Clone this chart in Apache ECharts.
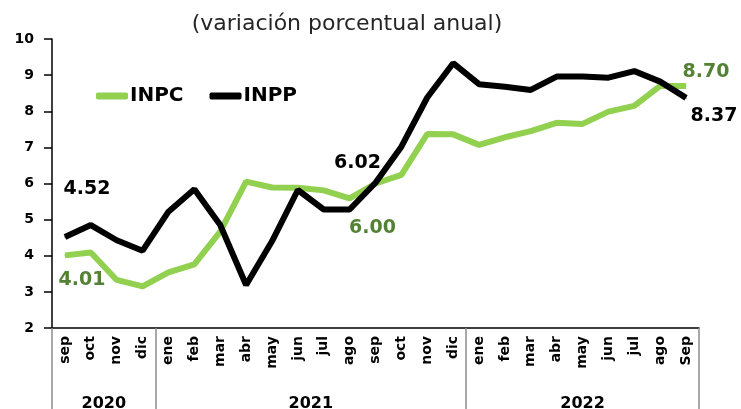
<!DOCTYPE html>
<html>
<head>
<meta charset="utf-8">
<script src="https://cdn.jsdelivr.net/npm/echarts@6/dist/echarts.min.js"></script>
<style>
  html, body { margin: 0; padding: 0; background: #fff; }
  #chart { width: 741px; height: 409px; }
</style>
</head>
<body>
<div id="chart"></div>
<script>
// datos
var months = ['sep', 'oct', 'nov', 'dic', 'ene', 'feb', 'mar', 'abr', 'may', 'jun', 'jul', 'ago',
              'sep', 'oct', 'nov', 'dic', 'ene', 'feb', 'mar', 'abr', 'may', 'jun', 'jul', 'ago', 'Sep'];
var years = ['2020', '2021', '2022'];
var yearStart = [0, 4, 16];
var inpc = [4.01, 4.09, 3.33, 3.15, 3.54, 3.76, 4.67, 6.05, 5.89, 5.88, 5.81, 5.59,
            6.00, 6.24, 7.37, 7.36, 7.07, 7.28, 7.45, 7.68, 7.65, 7.99, 8.15, 8.70, 8.70];
var inpp = [4.52, 4.85, 4.43, 4.14, 5.22, 5.84, 4.85, 3.19, 4.40, 5.82, 5.28, 5.28,
            6.02, 7.02, 8.38, 9.33, 8.75, 8.68, 8.59, 8.96, 8.96, 8.93, 9.11, 8.82, 8.37];
var yTicks = [2, 3, 4, 5, 6, 7, 8, 9, 10];

var FONT = 'DejaVu Sans';
var GREEN = '#92D050', DARKGREEN = '#548235';

// etiquetas de datos: indice -> desplazamiento
var inpcLabelAt = {0: [17, 25], 12: [-3, 45], 24: [20, -14]};
var inppLabelAt = {0: [22, -48], 12: [-18, -20], 24: [28, 18]};

function buildData(values, labelAt, color) {
    return values.map(function (v, i) {
        var item = {value: v};
        if (labelAt[i]) {
            item.label = {
                show: true,
                position: 'inside',
                offset: labelAt[i],
                formatter: function (p) { return p.value.toFixed(2); },
                color: color,
                fontFamily: FONT,
                fontWeight: 'bold',
                fontSize: 19
            };
        }
        return item;
    });
}

// centro de cada grupo de anio (en unidades de categoria)
var yearCenter = {};
for (var i = 0; i < years.length; i++) {
    var end = i + 1 < yearStart.length ? yearStart[i + 1] : months.length;
    yearCenter[(yearStart[i] + end) / 2] = years[i];
}

var myChart = echarts.init(document.getElementById('chart'));

var option = {
    animation: false,
    title: {
        text: '(variación porcentual anual)',
        left: 342,
        textAlign: 'center',
        top: 8,
        textStyle: {fontFamily: FONT, fontWeight: 'normal', fontSize: 22, color: '#262626'}
    },
    legend: {
        left: 91,
        top: 81,
        icon: 'roundRect',
        itemWidth: 32,
        itemHeight: 7,
        itemGap: 26,
        textStyle: {fontFamily: FONT, fontWeight: 'bold', fontSize: 20, color: '#000', padding: [0, 0, 0, -3]},
        data: ['INPC', 'INPP']
    },
    grid: {left: 52, right: 42, top: 39, bottom: 81, containLabel: false, outerBoundsMode: 'none'},
    xAxis: [
        {
            type: 'category',
            data: months,
            boundaryGap: true,
            axisLine: {lineStyle: {color: '#000', width: 1.5}},
            axisTick: {
                show: true,
                length: 81,
                interval: function (idx) { return yearStart.indexOf(idx) >= 0; },
                lineStyle: {color: '#8c8c8c', width: 1.5}
            },
            axisLabel: {
                interval: 0,
                rotate: 90,
                margin: 8,
                fontFamily: FONT,
                fontWeight: 'bold',
                fontSize: 14,
                color: '#000'
            }
        },
        {
            type: 'value',
            position: 'bottom',
            min: 0,
            max: months.length,
            interval: 0.5,
            axisLine: {show: false},
            axisTick: {show: false},
            splitLine: {show: false},
            axisLabel: {
                margin: 68,
                hideOverlap: false,
                showMinLabel: true,
                showMaxLabel: true,
                fontFamily: FONT,
                fontWeight: 'bold',
                fontSize: 16,
                color: '#000',
                formatter: function (v) { return yearCenter[v] || ''; }
            }
        }
    ],
    yAxis: {
        type: 'value',
        min: yTicks[0],
        max: yTicks[yTicks.length - 1],
        interval: 1,
        axisLine: {show: true, lineStyle: {color: '#000', width: 1.5}},
        axisTick: {show: true, length: 8, lineStyle: {color: '#000', width: 1.5}},
        splitLine: {show: false},
        axisLabel: {margin: 18, fontFamily: FONT, fontWeight: 'bold', fontSize: 14, color: '#000'}
    },
    series: [
        {
            name: 'INPC',
            type: 'line',
            data: buildData(inpc, inpcLabelAt, DARKGREEN),
            symbol: 'circle',
            symbolSize: 1,
            itemStyle: {color: GREEN},
            lineStyle: {color: GREEN, width: 6},
            z: 2
        },
        {
            name: 'INPP',
            type: 'line',
            data: buildData(inpp, inppLabelAt, '#000'),
            symbol: 'circle',
            symbolSize: 1,
            itemStyle: {color: '#000'},
            lineStyle: {color: '#000', width: 6},
            z: 3
        }
    ]
};

myChart.setOption(option);
</script>
</body>
</html>
